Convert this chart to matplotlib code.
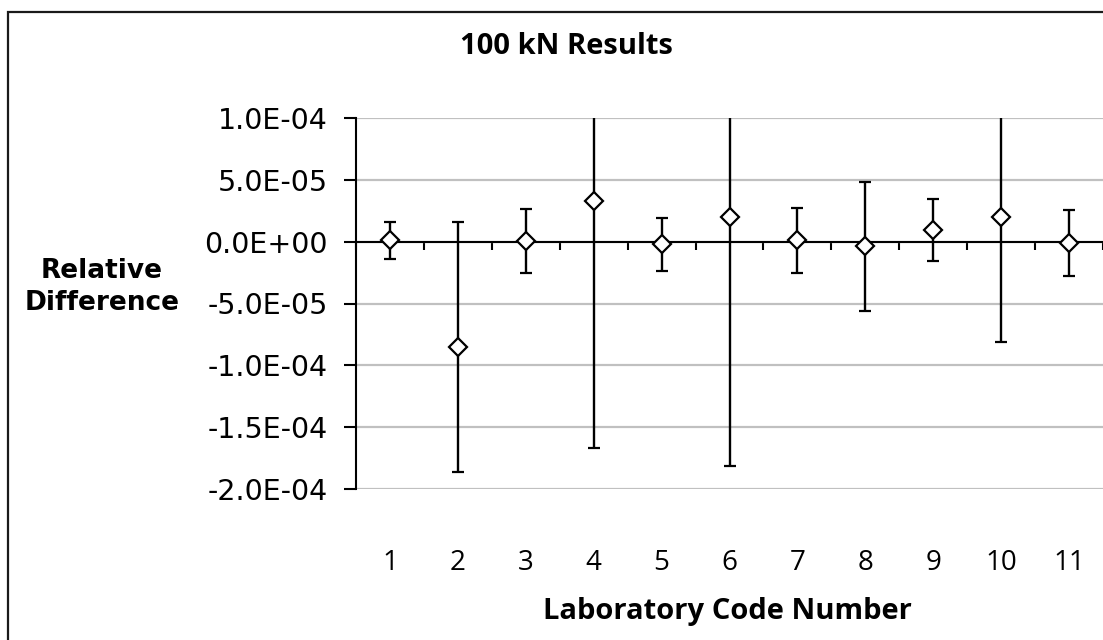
import matplotlib
matplotlib.use("Agg")
import matplotlib.pyplot as plt
from matplotlib.patches import Rectangle
from matplotlib.ticker import FuncFormatter, MultipleLocator

# Laboratory results: relative difference and expanded uncertainty
labs = [1, 2, 3, 4, 5, 6, 7, 8, 9, 10, 11]
rel_diff = [1.0e-6, -8.5e-5, 0.5e-6, 3.3e-5, -2.0e-6, 2.0e-5, 1.0e-6, -3.7e-6, 9.2e-6, 2.0e-5, -1.0e-6]
uncert = [1.5e-5, 1.01e-4, 2.58e-5, 2.0e-4, 2.15e-5, 2.01e-4, 2.63e-5, 5.22e-5, 2.5e-5, 1.01e-4, 2.65e-5]

title = "100 kN Results"
x_title = "Laboratory Code Number"
y_title = "Relative\nDifference"

W, H = 1103, 640
fig = plt.figure(figsize=(W / 100, H / 100), dpi=100)
fig.patch.set_facecolor("white")

# outer chart border
fig.patches.append(Rectangle((8 / W, -0.1), 1.2, 1 - 12 / H + 0.1, transform=fig.transFigure,
                             fill=False, edgecolor="#1a1a1a", linewidth=1.6, clip_on=False))

ax = fig.add_axes([356 / W, 1 - 489 / H, 747 / W, 371 / H])
ax.set_xlim(0.5, 11.5)
ax.set_ylim(-2.0e-4, 1.0e-4)

ax.errorbar(labs, rel_diff, yerr=uncert, fmt="D", color="black", ecolor="black",
            markerfacecolor="white", markeredgecolor="black", markersize=9,
            markeredgewidth=1.6, elinewidth=1.7, capsize=4.3, capthick=1.7, zorder=5)

# y axis
ax.yaxis.set_major_locator(MultipleLocator(5e-5))
ax.yaxis.set_major_formatter(FuncFormatter(lambda v, p: f"{v:.1E}"))
ax.tick_params(axis="y", direction="out", length=8.5, width=1.5, pad=12,
               labelsize=20.5, colors="black")
for lab in ax.get_yticklabels():
    lab.set_family("DejaVu Sans")
ax.grid(axis="y", color="#c0c0c0", linewidth=1.6, zorder=0)
ax.set_axisbelow(True)

# category axis crossing at zero
for s in ("top", "right"):
    ax.spines[s].set_visible(False)
ax.spines["left"].set_linewidth(1.5)
ax.spines["bottom"].set_position(("data", 0))
ax.spines["bottom"].set_linewidth(1.5)
ax.spines["bottom"].set_zorder(3)
ax.set_xticks([b + 0.5 for b in range(0, 12)])
ax.tick_params(axis="x", direction="out", length=6, width=1.5, labelbottom=False)

# category labels at the bottom of the plot area
sec = ax.secondary_xaxis(0)
sec.set_xticks(labs)
sec.set_xticklabels([str(v) for v in labs])
sec.tick_params(axis="x", length=0, pad=43, labelsize=20)
sec.spines["bottom"].set_visible(False)
for lab in sec.get_xticklabels():
    lab.set_family("Open Sans")

fig.text(566 / W, 1 - 47 / H, title, ha="center", va="center",
         family="Open Sans", fontweight="bold", fontsize=21)
fig.text(727 / W, 1 - 612 / H, x_title, ha="center", va="center",
         family="Open Sans", fontweight="bold", fontsize=21)
fig.text(102 / W, 1 - 287 / H, y_title, ha="center", va="center",
         family="DejaVu Sans", fontweight="bold", fontsize=19, linespacing=1.3)

fig.savefig("out.png", dpi=100)
